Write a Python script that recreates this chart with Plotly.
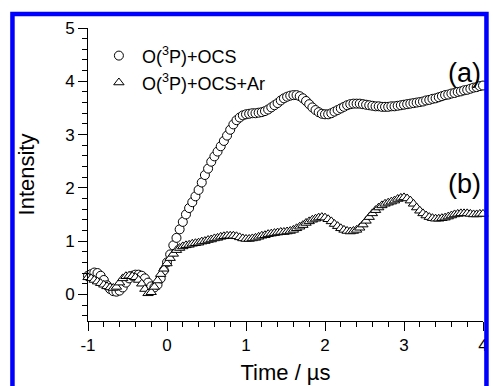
import plotly.graph_objects as go

# time grid start / step (µs)
t_start = -1.0
t_step = 0.04

# (a) O(3P)+OCS  — circles
series_a = [
    0.35, 0.38, 0.41, 0.40, 0.35, 0.27, 0.17, 0.10, 0.06, 0.05,
    0.07, 0.13, 0.22, 0.30, 0.35, 0.37, 0.37, 0.35, 0.30, 0.22,
    0.15, 0.13, 0.18, 0.30, 0.45,
    0.60, 0.75, 0.92, 1.06, 1.22, 1.36, 1.50, 1.62, 1.73, 1.84,
    1.96, 2.10, 2.24, 2.36, 2.49, 2.59, 2.68, 2.78, 2.88, 2.98,
    3.09, 3.19, 3.27, 3.32, 3.36, 3.38, 3.39, 3.40, 3.40, 3.41,
    3.42, 3.44, 3.47, 3.51, 3.55, 3.59, 3.64, 3.68, 3.71, 3.73,
    3.74, 3.74, 3.72, 3.68, 3.63, 3.57, 3.51, 3.46, 3.42, 3.39,
    3.38, 3.38, 3.40, 3.43, 3.46, 3.49, 3.52, 3.55, 3.57, 3.58,
    3.58, 3.58, 3.57, 3.56, 3.55, 3.54, 3.53, 3.53, 3.52, 3.52,
    3.52, 3.53, 3.53, 3.54, 3.55, 3.56, 3.57, 3.58, 3.59, 3.60,
    3.61, 3.62, 3.64, 3.65, 3.67, 3.68, 3.70, 3.72, 3.74, 3.75,
    3.77, 3.78, 3.80, 3.81, 3.83, 3.84, 3.86, 3.88, 3.89, 3.91,
    3.92,
]

# (b) O(3P)+OCS+Ar — triangles
series_b = [
    0.32, 0.30, 0.27, 0.24, 0.21, 0.18, 0.15, 0.13, 0.12, 0.14,
    0.22, 0.30, 0.34, 0.35, 0.34, 0.32, 0.27, 0.20, 0.10, 0.02,
    0.04, 0.14, 0.26, 0.38, 0.48,
    0.58, 0.68, 0.76, 0.83, 0.87, 0.90, 0.92, 0.93, 0.95, 0.96,
    0.97, 0.99, 1.00, 1.02, 1.03, 1.05, 1.06, 1.08, 1.09, 1.10,
    1.10, 1.10, 1.09, 1.07, 1.05, 1.04, 1.04, 1.05, 1.06, 1.08,
    1.10, 1.11, 1.13, 1.14, 1.15, 1.16, 1.17, 1.17, 1.18, 1.19,
    1.21, 1.24, 1.27, 1.30, 1.34, 1.37, 1.40, 1.42, 1.44, 1.45,
    1.44, 1.41, 1.37, 1.32, 1.28, 1.24, 1.21, 1.19, 1.18, 1.19,
    1.21, 1.25, 1.31, 1.38, 1.45, 1.52, 1.58, 1.63, 1.67, 1.70,
    1.72, 1.74, 1.76, 1.79, 1.81, 1.82, 1.80, 1.76, 1.70, 1.63,
    1.57, 1.52, 1.48, 1.45, 1.43, 1.42, 1.42, 1.43, 1.44, 1.46,
    1.48, 1.50, 1.51, 1.52, 1.52, 1.52, 1.51, 1.50, 1.50, 1.51,
    1.51,
]

name_a = "O(<sup>3</sup>P)+OCS"
name_b = "O(<sup>3</sup>P)+OCS+Ar"
x_ticks = [-1, 0, 1, 2, 3, 4]
x_ticktext = ["-1", "0", "1", "2", "3", "4"]
y_ticks = [0, 1, 2, 3, 4, 5]
y_ticktext = ["0", "1", "2", "3", "4", "5"]

FONT = "Liberation Sans, Arial, sans-serif"

fig = go.Figure()
fig.add_trace(go.Scatter(
    y=series_a, x0=t_start, dx=t_step, mode="markers", name=name_a,
    marker=dict(symbol="circle", size=9, color="white",
                line=dict(color="black", width=1)),
    cliponaxis=False, legend="legend",
))
fig.add_trace(go.Scatter(
    y=series_b, x0=t_start, dx=t_step, mode="markers", name=name_b,
    marker=dict(symbol="triangle-up", size=9, color="white",
                line=dict(color="black", width=1)),
    cliponaxis=False, legend="legend2",
))

L, R, T, B = 88, 5, 28, 64
W, H = 493, 386
pw, ph = W - L - R, H - T - B


def px2paper(px, py):
    return (px - L) / pw, (H - B - py) / ph


x0p, y1p = px2paper(11.5, 14)
x1p, y0p = px2paper(491.5, 400)

axis_common = dict(
    showline=True, linecolor="black", linewidth=1, showgrid=False, zeroline=False,
    ticks="outside", ticklen=9, tickwidth=1, tickcolor="black",
    tickfont=dict(family=FONT, size=17, color="black"),
)

leg_font = dict(family=FONT, size=18, color="black")

fig.update_layout(
    width=W, height=H,
    margin=dict(l=L, r=R, t=T, b=B),
    paper_bgcolor="white", plot_bgcolor="white",
    font=dict(family=FONT, color="black"),
    xaxis=dict(
        range=[-1, 4], tickvals=x_ticks, ticktext=x_ticktext,
        minor=dict(dtick=0.2, ticklen=5, ticks="outside", tickcolor="black", tickwidth=1),
        title=dict(text="Time / µs", font=dict(family=FONT, size=22), standoff=10),
        **axis_common,
    ),
    yaxis=dict(
        range=[-0.5, 5], tickvals=y_ticks, ticktext=y_ticktext,
        minor=dict(dtick=0.2, ticklen=5, ticks="outside", tickcolor="black", tickwidth=1),
        title=dict(text="Intensity", font=dict(family=FONT, size=22), standoff=24),
        **axis_common,
    ),
    legend=dict(x=px2paper(96, 56)[0], y=px2paper(96, 56)[1], xanchor="left", yanchor="middle",
                itemwidth=36, bgcolor="rgba(0,0,0,0)", font=leg_font),
    legend2=dict(x=px2paper(96, 83)[0], y=px2paper(96, 83)[1], xanchor="left", yanchor="middle",
                 itemwidth=36, bgcolor="rgba(0,0,0,0)", font=leg_font),
    showlegend=True,
    annotations=[
        dict(text="(a)", x=4, y=4.15, xref="x", yref="y", xanchor="right", yanchor="middle",
             showarrow=False, font=dict(family=FONT, size=27)),
        dict(text="(b)", x=4, y=2.08, xref="x", yref="y", xanchor="right", yanchor="middle",
             showarrow=False, font=dict(family=FONT, size=27)),
    ],
    shapes=[
        dict(type="rect", xref="paper", yref="paper", x0=x0p, x1=x1p, y0=y0p, y1=y1p,
             line=dict(color="#0000FF", width=4.5), fillcolor="rgba(0,0,0,0)", layer="above"),
    ],
)

fig.write_html("out.html")
